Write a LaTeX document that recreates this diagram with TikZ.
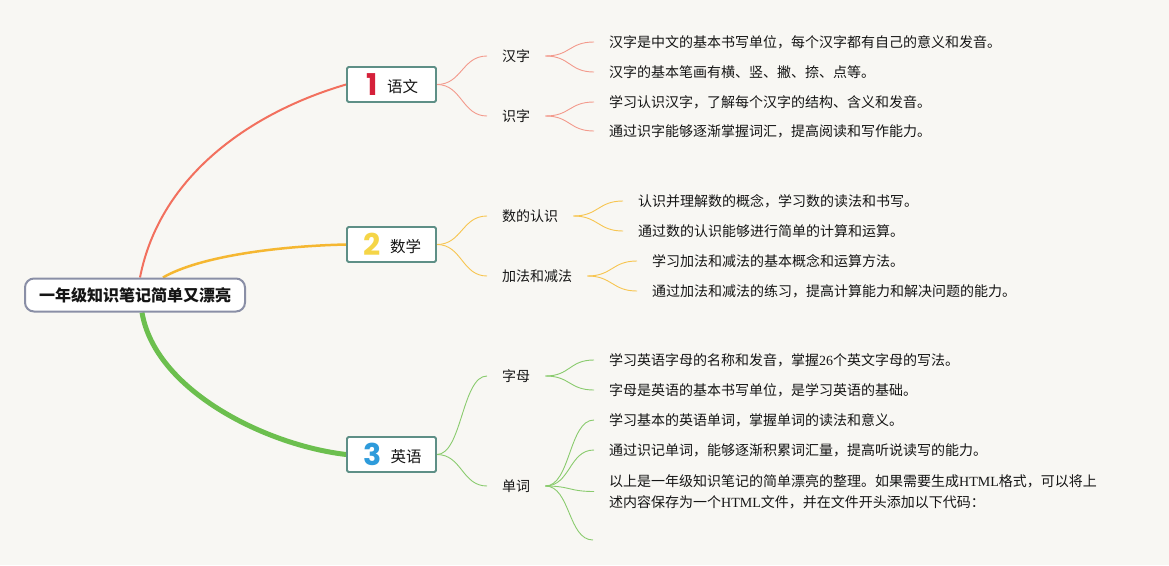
\documentclass[tikz,border=0pt]{standalone}
\usepackage{fontspec}
\setmainfont{Noto Sans CJK SC}
\newfontfamily\numfont{Poppins}
\newfontfamily\latinserif{Liberation Serif}
\definecolor{bgc}{HTML}{F8F7F3}
\definecolor{redm}{HTML}{F2705E}
\definecolor{reds}{HTML}{F39A8C}
\definecolor{orm}{HTML}{F5B731}
\definecolor{ors}{HTML}{F7C550}
\definecolor{grm}{HTML}{6CBF4E}
\definecolor{grs}{HTML}{8ACB6E}
\definecolor{boxc}{HTML}{5E8F86}
\definecolor{rootc}{HTML}{8A8FA6}
\definecolor{nred}{HTML}{D5203A}
\definecolor{nyel}{HTML}{F5D547}
\definecolor{nblu}{HTML}{2E9BDB}
\definecolor{txt}{HTML}{151515}
\newcommand{\bignum}[2]{{\fontsize{30}{30}\selectfont\numfont\bfseries\color{#1}\raisebox{-3pt}{#2}}}
\pgfdeclarelayer{bg}
\pgfdeclarelayer{lines}
\pgfsetlayers{bg,lines,main}
\begin{document}
\begin{tikzpicture}[x=1pt,y=-1pt,
  rootbox/.style={draw=rootc,line width=2pt,fill=white,rounded corners=9pt,
    minimum width=220pt,minimum height=33pt,inner sep=0pt,text=txt,
    font=\fontsize{16}{18}\selectfont\bfseries},
  catbox/.style={draw=boxc,line width=1.8pt,fill=white,rounded corners=1.5pt,
    minimum width=89pt,minimum height=35pt,inner sep=0pt,text=txt,
    font=\fontsize{15.5}{17}\selectfont},
  subnode/.style={anchor=west,inner xsep=15pt,inner ysep=2pt,text=txt,
    font=\fontsize{14}{16}\selectfont},
  leaf/.style={anchor=west,inner xsep=15pt,inner ysep=2pt,text=txt,
    font=\fontsize{14}{16}\selectfont},
  redsub/.style={draw=reds,line width=0.9pt},
  orsub/.style={draw=ors,line width=0.9pt},
  grsub/.style={draw=grs,line width=0.9pt}
]
\begin{pgfonlayer}{bg}
\fill[bgc] (0,0) rectangle (1169,565);
\end{pgfonlayer}
\useasboundingbox (0,0) rectangle (1169,565);

% root
\node[rootbox] (root) at (135,295) {一年级知识笔记简单又漂亮};

% category boxes
\node[catbox] (c1) at (391.5,84.5) {\hspace{2pt}\bignum{nred}{1}\hspace{9pt}语文};
\node[catbox] (c2) at (391.5,244.5) {\hspace{2pt}\bignum{nyel}{2}\hspace{9pt}数学};
\node[catbox] (c3) at (391.5,454.5) {\hspace{2pt}\bignum{nblu}{3}\hspace{9pt}英语};

% sub nodes
\node[subnode] (s11) at (487,56) {汉字};
\node[subnode] (s12) at (487,116) {识字};
\node[subnode] (s21) at (487,216) {数的认识};
\node[subnode] (s22) at (487,276) {加法和减法};
\node[subnode] (s31) at (487,376) {字母};
\node[subnode] (s32) at (487,486) {单词};

% leaves
\node[leaf] (l111) at (594,42) {汉字是中文的基本书写单位，每个汉字都有自己的意义和发音。};
\node[leaf] (l112) at (594,72) {汉字的基本笔画有横、竖、撇、捺、点等。};
\node[leaf] (l121) at (594,102) {学习认识汉字，了解每个汉字的结构、含义和发音。};
\node[leaf] (l122) at (594,131) {通过识字能够逐渐掌握词汇，提高阅读和写作能力。};
\node[leaf] (l211) at (623,201) {认识并理解数的概念，学习数的读法和书写。};
\node[leaf] (l212) at (623,231) {通过数的认识能够进行简单的计算和运算。};
\node[leaf] (l221) at (637,261) {学习加法和减法的基本概念和运算方法。};
\node[leaf] (l222) at (637,291) {通过加法和减法的练习，提高计算能力和解决问题的能力。};
\node[leaf] (l311) at (594,360) {学习英语字母的名称和发音，掌握{\latinserif 26}个英文字母的写法。};
\node[leaf] (l312) at (594,390) {字母是英语的基本书写单位，是学习英语的基础。};
\node[leaf] (l321) at (594,420) {学习基本的英语单词，掌握单词的读法和意义。};
\node[leaf] (l322) at (594,450) {通过识记单词，能够逐渐积累词汇量，提高听说读写的能力。};
\node[leaf,align=left,font=\fontsize{14}{21}\selectfont] (l323) at (594,491.5)
  {以上是一年级知识笔记的简单漂亮的整理。如果需要生成{\latinserif HTML}格式，可以将上\\
   述内容保存为一个{\latinserif HTML}文件，并在文件开头添加以下代码：};
\coordinate (l324) at (593,540);

\begin{pgfonlayer}{lines}
% main branches
\draw[redm,line width=2pt] ([xshift=5pt]root.north) .. controls (160,175) and (252,112) .. (c1.west);
\draw[orm,line width=2.5pt] ([xshift=28pt]root.north) .. controls (200,256) and (280,246) .. (c2.west);
\draw[grm,line width=5pt] ([xshift=7pt]root.south) .. controls (155,390) and (265,445) .. (c3.west);

% category to sub
\foreach \s in {s11,s12} \draw[redsub] (c1.east) .. controls +(25,0) and +(-25,0) .. (\s.west);
\foreach \s in {s21,s22} \draw[orsub] (c2.east) .. controls +(25,0) and +(-25,0) .. (\s.west);
\foreach \s in {s31,s32} \draw[grsub] (c3.east) .. controls +(25,0) and +(-25,0) .. (\s.west);

% sub to leaves
\foreach \l in {l111,l112} \draw[redsub] (s11.east) .. controls +(25,0) and +(-25,0) .. (\l.west);
\foreach \l in {l121,l122} \draw[redsub] (s12.east) .. controls +(25,0) and +(-25,0) .. (\l.west);
\foreach \l in {l211,l212} \draw[orsub] (s21.east) .. controls +(25,0) and +(-25,0) .. (\l.west);
\foreach \l in {l221,l222} \draw[orsub] (s22.east) .. controls +(25,0) and +(-25,0) .. (\l.west);
\foreach \l in {l311,l312} \draw[grsub] (s31.east) .. controls +(25,0) and +(-25,0) .. (\l.west);
\foreach \l in {l321,l322,l323} \draw[grsub] (s32.east) .. controls +(25,0) and +(-25,0) .. (\l.west);
\draw[grsub] (s32.east) .. controls +(25,0) and +(-25,0) .. (l324);
\end{pgfonlayer}
\end{tikzpicture}
\end{document}
